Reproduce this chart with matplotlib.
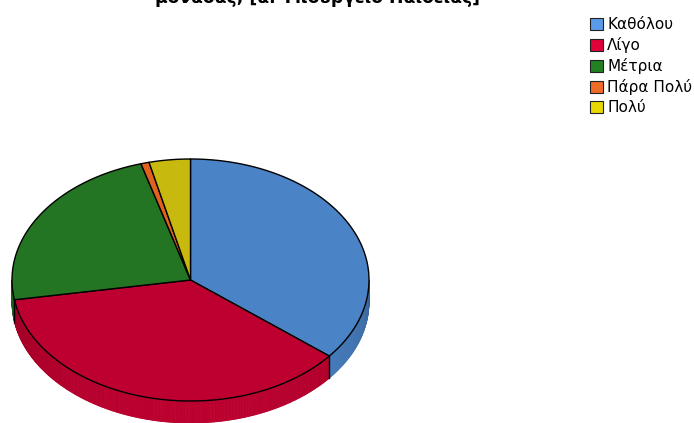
import numpy as np
import matplotlib.pyplot as plt
from matplotlib.collections import PolyCollection
from matplotlib.patches import Polygon, Patch
import matplotlib.colors as mcolors

# Responses (counts) for the question
labels = ['Καθόλου', 'Λίγο', 'Μέτρια', 'Πάρα Πολύ', 'Πολύ']
counts = [48, 49, 31, 1, 5]
title = 'μονάδας; [α. Υπουργείο Παιδείας]'

top_colors = ['#4a83c6', '#bd002f', '#247523', '#e0621e', '#c8b90e']
key_colors = ['#5b9ae8', '#e0003a', '#238023', '#f06a28', '#e8d800']

# pie geometry in pixel units
cx, cy = 190.5, 280.0
rx, ry = 178.5, 121.0
depth = 22.0


def pt(t, dy=0.0):
    r = np.radians(t)
    return cx + rx * np.cos(r), cy - ry * np.sin(r) + dy


fig = plt.figure(figsize=(6.94, 4.23), dpi=100)
ax = fig.add_axes([0, 0, 1, 1])
ax.set_xlim(0, 694)
ax.set_ylim(423, 0)
ax.axis('off')

# slice boundaries, clockwise from 12 o'clock
frac = np.array(counts) / np.sum(counts)
edges = 90 - 360 * np.concatenate([[0], np.cumsum(frac)])

# side wall: only the front half (-180..0 deg) is visible
quads, qcols = [], []
for i in range(len(counts)):
    t_hi, t_lo = edges[i], edges[i + 1]
    a, b = max(t_lo, -180), min(t_hi, 0)
    if a >= b:
        continue
    ts = np.linspace(a, b, max(int((b - a) * 2), 2))
    base = np.array(mcolors.to_rgb(top_colors[i]))
    for t0, t1 in zip(ts[:-1], ts[1:]):
        tm = 0.5 * (t0 + t1)
        shade = 0.72 + 0.27 * np.sqrt(max(-np.sin(np.radians(tm)), 0))
        quads.append([pt(t0), pt(t1), pt(t1, depth), pt(t0, depth)])
        qcols.append(np.clip(base * shade, 0, 1))
ax.add_collection(PolyCollection(quads, facecolors=qcols, edgecolors=qcols,
                                 linewidths=0.6))

# dark seams where slices meet on the wall
for t in edges:
    tt = (t + 180) % 360 - 180
    if -180 < tt < 0:
        x0, y0 = pt(tt)
        ax.plot([x0, x0], [y0, y0 + depth], color='black', lw=1.0)

# top face
for i in range(len(counts)):
    ts = np.linspace(edges[i], edges[i + 1], 200)
    xy = [(cx, cy)] + [pt(t) for t in ts]
    ax.add_patch(Polygon(xy, closed=True, facecolor=top_colors[i],
                         edgecolor='black', linewidth=1.0, joinstyle='round'))

ax.text(318, 3, title, ha='center', va='baseline', fontsize=12.3,
        fontweight='bold', color='black')

handles = [Patch(facecolor=c, edgecolor='#222222', linewidth=0.8) for c in key_colors]
ax.legend(handles, labels, loc='upper left',
          bbox_to_anchor=(590 / 694, 1 - 17 / 423), frameon=False,
          fontsize=11, handlelength=0.88, handleheight=0.82,
          handletextpad=0.25, labelspacing=0.33, borderpad=0, borderaxespad=0)

fig.savefig('out.png', dpi=100)
